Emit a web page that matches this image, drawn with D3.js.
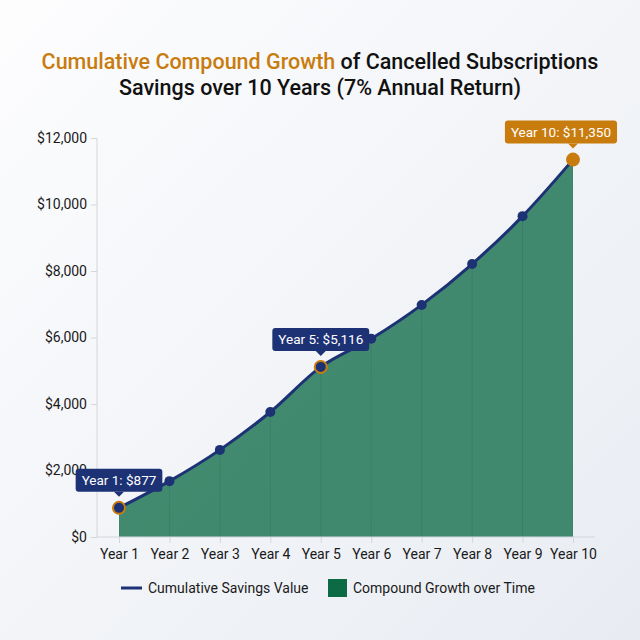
<!DOCTYPE html>
<html>
<head>
<meta charset="utf-8">
<script src="https://cdn.jsdelivr.net/npm/d3@7"></script>
<style>
	html, body { margin: 0; padding: 0; }
	body { width: 640px; height: 640px; font-family: Roboto, "Noto Sans", sans-serif; }
</style>
</head>
<body>
<div id="app"></div>
<script>
// values
const years = ['Year 1', 'Year 2', 'Year 3', 'Year 4', 'Year 5', 'Year 6', 'Year 7', 'Year 8', 'Year 9', 'Year 10'];
const savings = [877, 1680, 2620, 3760, 5116, 5960, 6980, 8210, 9650, 11350];
const yTicks = [0, 2000, 4000, 6000, 8000, 10000, 12000];
const callouts = [0, 4, 9]; // indexes of the labelled points
const legendLabels = ['Cumulative Savings Value', 'Compound Growth over Time'];

const navy = '#1d3275',
	orange = '#c97c0e',
	green = '#0c6a45';

let outerWidth = 640,
	outerHeight = 640,
	margin = { top: 138, right: 45, bottom: 103, left: 97 },
	width = outerWidth - margin.left - margin.right,
	height = outerHeight - margin.top - margin.bottom;

let svg = d3.select('#app').append('svg')
	.attr('width', outerWidth)
	.attr('height', outerHeight);

let defs = svg.append('defs');
let bg = defs.append('linearGradient')
	.attr('id', 'bg')
	.attr('x1', '0').attr('y1', '0')
	.attr('x2', '1').attr('y2', '1');
bg.append('stop').attr('offset', '0%').attr('stop-color', '#fdfdfe');
bg.append('stop').attr('offset', '100%').attr('stop-color', '#e8ecf2');

svg.append('rect')
	.attr('width', outerWidth)
	.attr('height', outerHeight)
	.attr('fill', 'url(#bg)');

// title
let title = svg.append('text')
	.attr('text-anchor', 'middle')
	.attr('font-size', 21.5)
	.attr('font-weight', 500)
	.attr('fill', '#111');
title.append('tspan')
	.attr('x', outerWidth / 2).attr('y', 69)
	.attr('fill', orange)
	.text('Cumulative Compound Growth');
title.append('tspan')
	.text(' of Cancelled Subscriptions');
title.append('tspan')
	.attr('x', outerWidth / 2).attr('y', 95)
	.text('Savings over 10 Years (7% Annual Return)');

let graph = svg.append('g')
	.attr('transform', `translate(${ margin.left }, ${ margin.top })`);

let x = d3.scalePoint()
	.domain(years)
	.range([22, width - 22]);

let y = d3.scaleLinear()
	.domain([0, 12000])
	.range([height, 0]);

let data = years.map((d, i) => ({ year: d, value: savings[i] }));

let area = d3.area()
	.x(d => x(d.year))
	.y0(height)
	.y1(d => y(d.value))
	.curve(d3.curveMonotoneX);

let line = d3.line()
	.x(d => x(d.year))
	.y(d => y(d.value))
	.curve(d3.curveMonotoneX);

defs.append('clipPath')
	.attr('id', 'area-clip')
	.append('path')
		.datum(data)
		.attr('d', area);

graph.append('path')
	.datum(data)
	.attr('d', area)
	.attr('fill', green)
	.attr('fill-opacity', 0.77);

// faint vertical grid, only visible over the fill
graph.append('g')
	.attr('clip-path', 'url(#area-clip)')
	.selectAll('line')
	.data(years)
	.enter().append('line')
		.attr('x1', d => x(d))
		.attr('x2', d => x(d))
		.attr('y1', 0)
		.attr('y2', height)
		.attr('stroke', '#000')
		.attr('stroke-opacity', 0.07);

// axes
let xAxis = graph.append('g')
	.attr('transform', `translate(0, ${ height })`)
	.call(d3.axisBottom(x).tickSize(6).tickPadding(6));
xAxis.select('.domain').attr('stroke', '#d3d6dc').attr('d', `M0,0H${ width }`);
xAxis.selectAll('.tick line').attr('stroke', '#d3d6dc');
xAxis.selectAll('.tick text')
	.attr('font-family', 'Roboto, sans-serif')
	.attr('font-size', 14)
	.attr('fill', '#1a1a1a');

let yAxis = graph.append('g')
	.call(d3.axisLeft(y)
		.tickValues(yTicks)
		.tickSize(6)
		.tickPadding(4)
		.tickFormat(d => '$' + d3.format(',')(d)));
yAxis.select('.domain').attr('stroke', '#d3d6dc').attr('d', `M0,${ height }V0`);
yAxis.selectAll('.tick line').attr('stroke', '#d3d6dc');
yAxis.selectAll('.tick text')
	.attr('font-family', 'Roboto, sans-serif')
	.attr('font-size', 14)
	.attr('fill', '#1a1a1a');

graph.append('path')
	.datum(data)
	.attr('d', line)
	.attr('fill', 'none')
	.attr('stroke', navy)
	.attr('stroke-width', 3)
	.attr('stroke-linejoin', 'round');

graph.append('g')
	.selectAll('circle')
	.data(data)
	.enter().append('circle')
		.attr('cx', d => x(d.year))
		.attr('cy', d => y(d.value))
		.attr('r', (d, i) => callouts.includes(i) ? 6 : 5)
		.attr('fill', (d, i) => i === 9 ? orange : navy)
		.attr('stroke', (d, i) => callouts.includes(i) ? orange : 'none')
		.attr('stroke-width', 2);

// callout labels
callouts.forEach(i => {
	let d = data[i],
		fill = i === 9 ? orange : navy,
		label = `${ d.year }: $${ d3.format(',')(d.value) }`,
		cx = x(d.year),
		cy = y(d.value);

	let g = graph.append('g');
	let t = g.append('text')
		.attr('text-anchor', 'middle')
		.attr('font-size', 13.5)
		.attr('fill', '#fff')
		.text(label);
	let w = t.node().getComputedTextLength() + 12,
		h = 23,
		bx = Math.min(cx - w / 2, width + margin.right - 23 - w),
		by = cy - 16 - h;

	g.insert('path', 'text')
		.attr('d', `M${ cx - 5 },${ by + h }L${ cx },${ by + h + 5 }L${ cx + 5 },${ by + h }Z`)
		.attr('fill', fill);
	g.insert('rect', 'text')
		.attr('x', bx).attr('y', by)
		.attr('width', w).attr('height', h)
		.attr('rx', 3)
		.attr('fill', fill);
	t.attr('x', bx + w / 2).attr('y', by + 16.5);
});

// legend
let legend = svg.append('g')
	.attr('transform', 'translate(121, 588)')
	.attr('font-size', 14)
	.attr('fill', '#1a1a1a');
legend.append('line')
	.attr('x1', 0).attr('x2', 21)
	.attr('stroke', navy)
	.attr('stroke-width', 3);
legend.append('text')
	.attr('x', 27).attr('y', 5)
	.text(legendLabels[0]);
legend.append('rect')
	.attr('x', 207).attr('y', -9)
	.attr('width', 19).attr('height', 18)
	.attr('fill', green);
legend.append('text')
	.attr('x', 232).attr('y', 5)
	.text(legendLabels[1]);
</script>
</body>
</html>
